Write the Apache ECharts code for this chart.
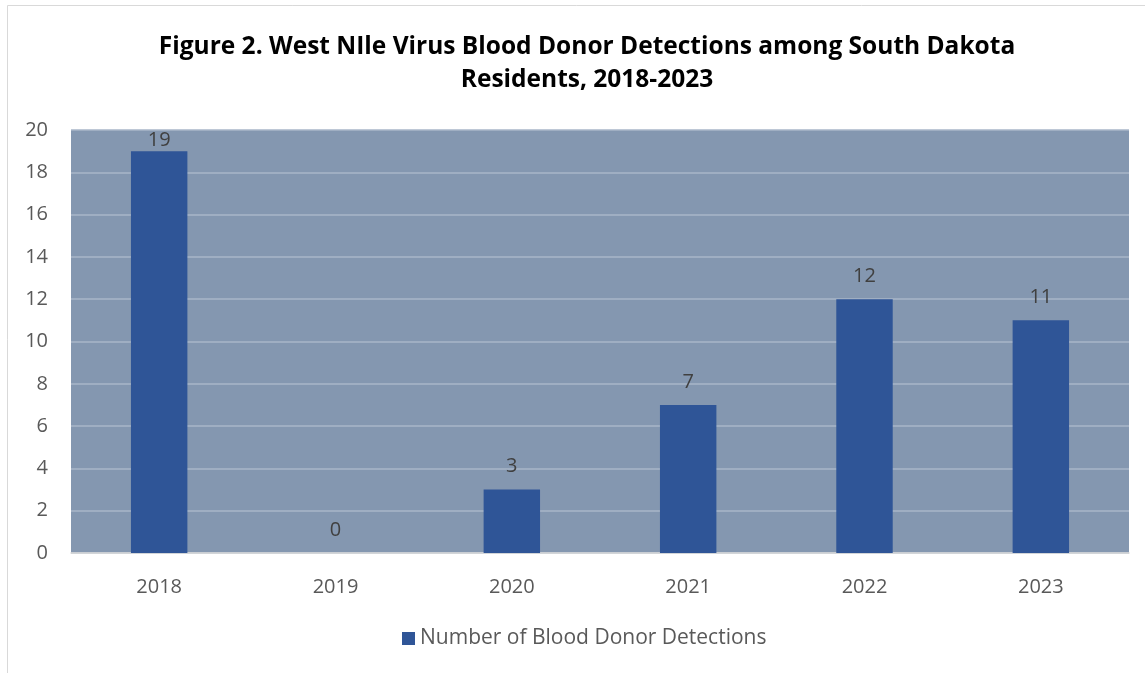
<!DOCTYPE html>
<html>
<head>
<meta charset="utf-8">
<script src="https://cdn.jsdelivr.net/npm/echarts@6/dist/echarts.min.js"></script>
<style>
  html, body { margin: 0; padding: 0; background: #ffffff; }
  #chart { width: 1145px; height: 673px; }
</style>
</head>
<body>
<div id="chart"></div>
<script>
// West Nile virus blood donor detections, South Dakota residents
const years = ['2018', '2019', '2020', '2021', '2022', '2023'];
const detections = [19, 0, 3, 7, 12, 11];
const seriesName = 'Number of Blood Donor Detections';
const titleLines = ['Figure 2. West NIle Virus Blood Donor Detections among South Dakota', 'Residents, 2018-2023'];

const yMax = 20;

const chart = echarts.init(document.getElementById('chart'), null, { renderer: 'canvas' });

const font = 'Open Sans, Noto Sans, sans-serif';

// Bars close to the top of the axis keep their value label inside the plot area
const barData = detections.map(v => ({
  value: v,
  label: { distance: v > yMax - 2 ? 1 : 13 }
}));

chart.setOption({
  backgroundColor: '#ffffff',
  animation: false,
  title: {
    text: titleLines.join('\n'),
    left: 582,
    textAlign: 'center',
    top: 26,
    textStyle: {
      fontFamily: font,
      fontWeight: 'bold',
      fontSize: 24.5,
      lineHeight: 33,
      color: '#000000'
    }
  },
  graphic: [{
    type: 'rect',
    shape: { x: 7.5, y: 5.5, width: 1160, height: 700 },
    style: { fill: 'none', stroke: '#d9d9d9', lineWidth: 1 },
    silent: true
  }],
  legend: {
    data: [seriesName],
    bottom: 19,
    left: 397,
    icon: 'rect',
    itemWidth: 13,
    itemHeight: 13,
    itemGap: 7,
    textStyle: { fontFamily: font, fontSize: 21, color: '#595959' }
  },
  grid: {
    left: 71,
    right: 16,
    top: 130,
    bottom: 120,
    show: true,
    backgroundColor: '#8497b0',
    borderWidth: 0
  },
  xAxis: {
    type: 'category',
    data: years,
    axisLine: { show: true, lineStyle: { color: '#d9d9d9', width: 1.5 } },
    axisTick: { show: false },
    axisLabel: { fontFamily: font, fontSize: 20, color: '#595959', margin: 24 },
    splitLine: { show: false }
  },
  yAxis: {
    type: 'value',
    min: 0,
    max: yMax,
    interval: 2,
    axisLine: { show: false },
    axisTick: { show: false },
    axisLabel: { fontFamily: font, fontSize: 20, color: '#595959', margin: 23, align: 'right' },
    splitLine: { show: true, lineStyle: { color: '#a8b6c9', width: 1.5 } }
  },
  series: [{
    name: seriesName,
    type: 'bar',
    data: barData,
    barWidth: '32%',
    itemStyle: { color: '#2f5597' },
    label: {
      show: true,
      position: 'top',
      distance: 13,
      fontFamily: font,
      fontSize: 20,
      color: '#404040'
    }
  }]
});
</script>
</body>
</html>
